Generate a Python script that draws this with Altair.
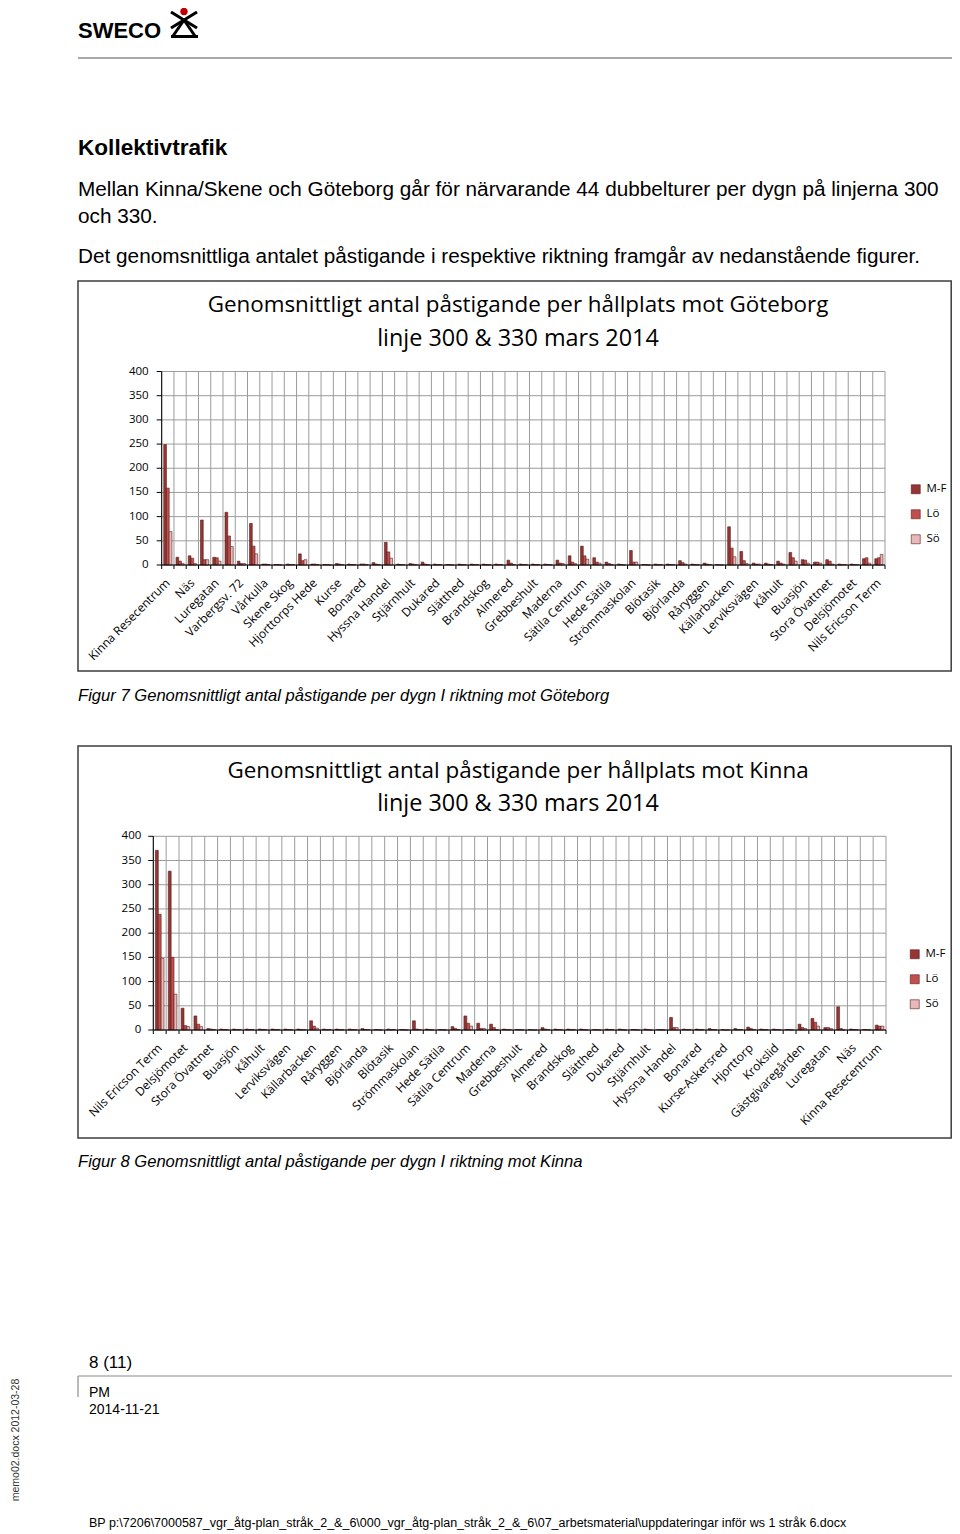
import altair as alt
import pandas as pd

# ---------------- data ----------------
series = ["M-F", "Lö", "Sö"]
colors = ["#943634", "#C0504D", "#E6B9B8"]
y_ticks = [0, 50, 100, 150, 200, 250, 300, 350, 400]

stops_gbg = ["Kinna Resecentrum", "", "Näs", "", "Luregatan", "", "Varbergsv. 72", "",
             "Vårkulla", "", "Skene Skog", "", "Hjorttorps Hede", "", "Kurse", "", "Bonared", "",
             "Hyssna Handel", "", "Stjärnhult", "", "Dukared", "", "Slätthed", "", "Brandskog", "",
             "Almered", "", "Grebbeshult", "", "Maderna", "", "Sätila Centrum", "", "Hede Sätila", "",
             "Strömmaskolan", "", "Blötasik", "", "Björlanda", "", "Råryggen", "", "Källarbacken", "",
             "Lerviksvägen", "", "Kåhult", "", "Buasjön", "", "Stora Övattnet", "", "Delsjömotet", "",
             "Nils Ericson Term"]
gbg_mf = [249, 16, 19, 93, 16, 109, 8, 86, 2, 1, 2, 23, 2, 1, 3, 2, 2, 5, 47, 2,
          3, 6, 2, 1, 2, 2, 2, 2, 10, 2, 2, 2, 10, 19, 39, 15, 6, 2, 30, 1,
          2, 2, 9, 2, 4, 1, 79, 28, 4, 4, 8, 26, 11, 6, 11, 2, 2, 13, 13]
gbg_lo = [159, 8, 14, 11, 15, 60, 3, 39, 2, 1, 1, 9, 2, 1, 2, 1, 2, 2, 27, 1,
          2, 2, 1, 1, 1, 1, 1, 1, 4, 1, 1, 1, 4, 6, 19, 6, 3, 1, 6, 1,
          1, 1, 5, 1, 2, 0, 35, 9, 2, 2, 4, 15, 10, 6, 8, 1, 1, 15, 15]
gbg_so = [69, 3, 3, 11, 8, 38, 3, 23, 1, 0, 1, 11, 1, 0, 1, 1, 1, 1, 14, 1,
          1, 1, 1, 0, 1, 1, 1, 1, 1, 1, 1, 1, 3, 3, 12, 4, 1, 0, 6, 0,
          1, 1, 2, 1, 1, 0, 17, 3, 2, 1, 2, 8, 4, 4, 2, 1, 1, 4, 22]

stops_kinna = ["Nils Ericson Term", "", "Delsjömotet", "", "Stora Övattnet", "", "Buasjön", "",
               "Kåhult", "", "Lerviksvägen", "", "Källarbacken", "", "Råryggen", "", "Björlanda", "",
               "Blötasik", "", "Strömmaskolan", "", "Hede Sätila", "", "Sätila Centrum", "", "Maderna", "",
               "Grebbeshult", "", "Almered", "", "Brandskog", "", "Slätthed", "", "Dukared", "",
               "Stjärnhult", "", "Hyssna Handel", "", "Bonared", "", "Kurse-Askersred", "", "Hjorttorp", "",
               "Krokslid", "", "Gästgivaregården", "", "Luregatan", "", "Näs", "", "Kinna Resecentrum"]
kinna_mf = [371, 328, 45, 29, 3, 2, 2, 2, 2, 2, 2, 2, 19, 2, 2, 2, 3, 1, 2, 1,
            19, 2, 1, 7, 29, 14, 12, 2, 1, 1, 5, 2, 2, 2, 1, 2, 2, 1, 2, 1,
            26, 2, 2, 3, 1, 3, 6, 2, 2, 1, 12, 24, 5, 48, 2, 1, 10]
kinna_lo = [239, 150, 9, 12, 2, 1, 1, 1, 1, 1, 1, 1, 8, 1, 1, 1, 1, 1, 1, 1,
            2, 1, 1, 3, 14, 3, 5, 1, 1, 0, 2, 1, 1, 1, 1, 1, 1, 1, 1, 1,
            5, 1, 1, 1, 0, 1, 3, 1, 1, 1, 5, 16, 5, 3, 1, 1, 8]
kinna_so = [148, 74, 7, 7, 1, 1, 1, 1, 1, 1, 1, 1, 4, 1, 1, 1, 1, 0, 1, 0,
            1, 0, 0, 1, 8, 3, 1, 1, 0, 0, 1, 1, 1, 0, 0, 1, 0, 0, 0, 0,
            5, 1, 1, 1, 0, 1, 1, 1, 1, 0, 3, 8, 3, 0, 1, 0, 8]

# ---------------- layout / style ----------------
W, H = 944, 1526
FONT_DOC = "Liberation Sans"
FONT_CHART = "Open Sans"
GRID = "#9C9C9C"
BAR_STROKE = "#5a1c1b"
one = pd.DataFrame({"k": [0]})


def txt(s, x, y, size, font=FONT_DOC, align="left", weight="normal", style="normal",
        angle=0, color="#000000", baseline="alphabetic"):
    mk = dict(align=align, baseline=baseline, font=font, fontSize=size,
              fontWeight=weight, fontStyle=style, color=color)
    if angle:
        mk["angle"] = angle
    return alt.Chart(one).mark_text(**mk).encode(
        x=alt.value(x), y=alt.value(y), text=alt.value(s))


def seg(x1, y1, x2, y2, color="#000000", w=1.0, cap="butt"):
    return alt.Chart(one).mark_rule(color=color, strokeWidth=w, strokeCap=cap).encode(
        x=alt.value(x1), y=alt.value(y1), x2=alt.value(x2), y2=alt.value(y2))


def box(x1, y1, x2, y2):
    return alt.Chart(one).mark_rect(fillOpacity=0, stroke="#3c3c3c", strokeWidth=1.5).encode(
        x=alt.value(x1), x2=alt.value(x2), y=alt.value(y1), y2=alt.value(y2))


def bar_panel(stops, mf, lo, so, x0, x1, y0, y1, lx, ly, lab_gap):
    n = len(stops)
    idx, ser, val = [], [], []
    for s, vals in zip(series, (mf, lo, so)):
        for i in range(n):
            idx.append(i)
            ser.append(s)
            val.append(vals[i])
    bars_df = pd.DataFrame({"idx": idx, "serie": ser, "value": val})
    cats_df = pd.DataFrame({"idx": list(range(n))})
    names_df = pd.DataFrame({"idx": [i for i, s in enumerate(stops) if s],
                             "name": [s for s in stops if s]})
    ticks_df = pd.DataFrame({"t": y_ticks})

    xs = alt.Scale(domain=list(range(n)), range=[x0, x1], paddingInner=0, paddingOuter=0)
    ys = alt.Scale(domain=[0, 400], range=[y0, y1], nice=False)
    X = lambda **kw: alt.X("idx:O", scale=xs, axis=None, **kw)

    hgrid = alt.Chart(ticks_df).mark_rule(color=GRID, strokeWidth=1).encode(
        y=alt.Y("t:Q", scale=ys, axis=None), x=alt.value(x0), x2=alt.value(x1))
    vgrid = alt.Chart(cats_df).mark_rule(color=GRID, strokeWidth=1).encode(
        x=X(bandPosition=0),
        y=alt.YDatum(0, type="quantitative", scale=ys, axis=None),
        y2=alt.Y2Datum(400))
    vend = alt.Chart(one).mark_rule(color=GRID, strokeWidth=1).encode(
        x=alt.value(x1),
        y=alt.YDatum(0, type="quantitative", scale=ys, axis=None),
        y2=alt.Y2Datum(400))

    bars = alt.Chart(bars_df).mark_bar(stroke=BAR_STROKE, strokeWidth=0.6).encode(
        x=X(),
        xOffset=alt.XOffset("serie:N", sort=series,
                            scale=alt.Scale(domain=series, paddingInner=0, paddingOuter=0.74)),
        y=alt.Y("value:Q", scale=ys, axis=None),
        color=alt.Color("serie:N", sort=series,
                        scale=alt.Scale(domain=series, range=colors),
                        legend=alt.Legend(orient="none", legendX=lx, legendY=ly, title=None,
                                          symbolType="square", symbolSize=81,
                                          symbolStrokeColor=BAR_STROKE, symbolStrokeWidth=0.6,
                                          labelFont=FONT_CHART, labelFontSize=11.5,
                                          labelColor="#000000", rowPadding=12, padding=0,
                                          labelOffset=5)),
    )

    # axis pieces drawn through the same scales
    xticks = alt.Chart(cats_df).mark_rule(color="#000000", strokeWidth=1).encode(
        x=X(bandPosition=0), y=alt.value(y0), y2=alt.value(y0 + 4))
    xtick_end = seg(x1, y0, x1, y0 + 4)
    yticks = alt.Chart(ticks_df).mark_rule(color="#000000", strokeWidth=1).encode(
        y=alt.Y("t:Q", scale=ys, axis=None), x=alt.value(x0 - 5), x2=alt.value(x0))
    xdomain = seg(x0, y0, x1, y0)
    ydomain = seg(x0, y0, x0, y1)
    ylabels = alt.Chart(ticks_df).mark_text(
        align="right", baseline="middle", font=FONT_CHART, fontSize=11.5, color="#000000").encode(
        y=alt.Y("t:Q", scale=ys, axis=None), x=alt.value(x0 - lab_gap), text="t:Q")
    xlabels = alt.Chart(names_df).mark_text(
        align="right", baseline="middle", angle=315, font=FONT_CHART, fontSize=12,
        color="#000000").encode(
        x=X(), y=alt.value(y0 + 16), text="name:N")

    return alt.layer(vgrid, vend, hgrid, bars, xticks, xtick_end, yticks,
                     xdomain, ydomain, ylabels, xlabels)


# ---------------- document layers ----------------
doc = [
    # logo
    txt("SWECO", 70, 29.5, 22, weight="bold"),
    seg(163, 4, 189, 20, w=3),
    seg(189, 4, 163, 20, w=3),
    seg(176, 12, 165, 28, w=3),
    seg(176, 12, 187, 28, w=3),
    seg(163, 28.5, 190, 28.5, w=3),
    # header rule
    seg(70, 50, 944, 50, color="#8c8c8c", w=1.5),
    txt("Kollektivtrafik", 70, 147, 22.6, weight="bold"),
    txt("Mellan Kinna/Skene och Göteborg går för närvarande 44 dubbelturer per dygn på linjerna 300",
        70, 188, 20.75),
    txt("och 330.", 70, 214.5, 20.75),
    txt("Det genomsnittliga antalet påstigande i respektive riktning framgår av nedanstående figurer.",
        70, 255, 20.75),
    # chart 1 box and titles
    box(70, 273, 943.2, 663),
    txt("Genomsnittligt antal påstigande per hållplats mot Göteborg", 510, 304, 22.4,
        font=FONT_CHART, align="center"),
    txt("linje 300 & 330 mars 2014", 510, 338, 23.4, font=FONT_CHART, align="center"),
    txt("Figur 7 Genomsnittligt antal påstigande per dygn I riktning mot Göteborg", 70, 693, 16.6,
        style="italic"),
    # chart 2 box and titles
    box(70, 738, 943.2, 1130),
    txt("Genomsnittligt antal påstigande per hållplats mot Kinna", 510, 770, 22.4,
        font=FONT_CHART, align="center"),
    txt("linje 300 & 330 mars 2014", 510, 803, 23.4, font=FONT_CHART, align="center"),
    txt("Figur 8 Genomsnittligt antal påstigande per dygn I riktning mot Kinna", 70, 1159, 16.6,
        style="italic"),
    # footer
    txt("8 (11)", 81, 1360, 17),
    seg(70, 1368, 944, 1368, color="#8c8c8c", w=1.2),
    seg(70, 1368, 70, 1389, color="#8c8c8c", w=1.2),
    txt("PM", 81, 1389, 14),
    txt("2014-11-21", 81, 1406, 14),
    txt("memo02.docx 2012-03-28", 8, 1432, 10.5, angle=270, align="center", baseline="middle",
        color="#333333"),
    txt("BP p:\\7206\\7000587_vgr_åtg-plan_stråk_2_&_6\\000_vgr_åtg-plan_stråk_2_&_6\\07_arbetsmaterial"
        "\\uppdateringar inför ws 1 stråk 6.docx", 81, 1519, 12.5),
]

# red dot of the logo
dot = alt.Chart(one).mark_point(filled=True, color="#C00000", size=55, opacity=1).encode(
    x=alt.value(176), y=alt.value(3.5))

panel1 = bar_panel(stops_gbg, gbg_mf, gbg_lo, gbg_so, 153.7, 877.0, 557.0, 363.5, 902, 475.5, 13)
panel2 = bar_panel(stops_kinna, kinna_mf, kinna_lo, kinna_so, 145.3, 878.0, 1022.0, 828.3, 901, 940.5, 12)

chart = (
    alt.layer(*doc, dot, panel1, panel2)
    .resolve_scale(x="independent", y="independent", xOffset="independent", color="independent")
    .resolve_legend(color="independent")
    .properties(width=W, height=H, padding=0, autosize=alt.AutoSizeParams(type="none"))
    .configure_view(stroke="transparent")
)

chart.save("out.html", embed_options={"renderer": "svg", "actions": False})
